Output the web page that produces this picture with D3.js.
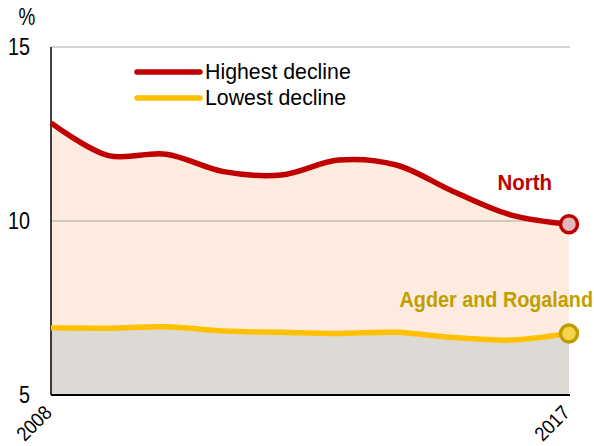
<!DOCTYPE html>
<html>
<head>
<meta charset="utf-8">
<script src="https://cdn.jsdelivr.net/npm/d3@7"></script>
<style>
  body { margin: 0; background: #fff; }
  svg { font-family: "Liberation Sans", Arial, sans-serif; }
</style>
</head>
<body>
<div id="chart"></div>
<script>
// Data
var years = [2008, 2009, 2010, 2011, 2012, 2013, 2014, 2015, 2016, 2017];
var highest = [12.82, 11.88, 11.92, 11.42, 11.32, 11.75, 11.61, 10.84, 10.17, 9.91];
var lowest = [6.93, 6.92, 6.96, 6.84, 6.80, 6.77, 6.80, 6.65, 6.58, 6.77];
var yTicks = [5, 10, 15];
var seriesNames = ["Highest decline", "Lowest decline"];
var endLabels = ["North", "Agder and Rogaland"];

//Width and height
var w = 594;
var h = 446;

var svg = d3.select("#chart")
    .append("svg")
    .attr("width", w)
    .attr("height", h);

var x = d3.scalePoint()
    .domain(years)
    .range([51, 569]);

var y = d3.scaleLinear()
    .domain([5, 15])
    .range([395, 47]);

var curve = d3.curveCatmullRom.alpha(0.5);

//Areas
var area = function (vals) {
    return d3.area()
        .x((d, i) => x(years[i]))
        .y0(y(5))
        .y1(d => y(d))
        .curve(curve)(vals);
};

svg.append("path")
    .attr("d", area(highest))
    .attr("fill", "#FCEBDE");

svg.append("path")
    .attr("d", area(lowest))
    .attr("fill", "#DDDAD5");

//Gridlines
svg.selectAll(".grid")
    .data(yTicks.filter(d => d > 5))
    .join("line")
    .attr("class", "grid")
    .attr("x1", x(2008))
    .attr("x2", x(2017) + 1)
    .attr("y1", d => y(d))
    .attr("y2", d => y(d))
    .attr("stroke", d => d === 15 ? "#C4C4C4" : "#CBBDB2")
    .attr("stroke-width", 1.5);

//Axes
svg.append("line")
    .attr("x1", x(2008)).attr("x2", x(2008))
    .attr("y1", y(15)).attr("y2", y(5))
    .attr("stroke", "#000").attr("stroke-width", 1.5);

svg.append("line")
    .attr("x1", x(2008)).attr("x2", x(2017) + 1)
    .attr("y1", y(5)).attr("y2", y(5))
    .attr("stroke", "#000").attr("stroke-width", 2);

//Y tick labels (slightly condensed like the original)
svg.selectAll(".ytick")
    .data(yTicks)
    .join("text")
    .attr("class", "ytick")
    .attr("text-anchor", "end")
    .attr("transform", d => `translate(30,${y(d) + 8}) scale(0.86,1)`)
    .style("font-size", "23px")
    .text(d => d);

svg.append("text")
    .attr("text-anchor", "middle")
    .attr("transform", "translate(27,25) scale(0.82,1)")
    .style("font-size", "23px")
    .text("%");

//X tick labels
svg.selectAll(".xtick")
    .data([years[0], years[years.length - 1]])
    .join("text")
    .attr("class", "xtick")
    .attr("text-anchor", "end")
    .attr("transform", d => `translate(${x(d) + 2},${y(5) + 19}) rotate(-45) scale(0.9,1)`)
    .style("font-size", "20px")
    .text(d => d);

//Lines
var line = d3.line()
    .x((d, i) => x(years[i]))
    .y(d => y(d))
    .curve(curve);

var colors = ["#C00000", "#FFC000"];

svg.selectAll(".series")
    .data([highest, lowest])
    .join("path")
    .attr("class", "series")
    .attr("d", d => line(d))
    .attr("fill", "none")
    .attr("stroke", (d, i) => colors[i])
    .attr("stroke-width", 5.5);

//End markers
var markerFill = ["#E2B8BC", "#F6D54C"];
var markerStroke = ["#C00000", "#BF9F00"];

svg.selectAll(".marker")
    .data([highest, lowest])
    .join("circle")
    .attr("class", "marker")
    .attr("cx", x(2017))
    .attr("cy", d => y(d[d.length - 1]))
    .attr("r", 8.5)
    .attr("fill", (d, i) => markerFill[i])
    .attr("stroke", (d, i) => markerStroke[i])
    .attr("stroke-width", 3.5);

//End labels
svg.append("text")
    .attr("text-anchor", "end")
    .attr("transform", "translate(552,190) scale(0.93,1)")
    .attr("fill", "#C00000")
    .style("font-size", "22px")
    .style("font-weight", "bold")
    .text(endLabels[0]);

svg.append("text")
    .attr("text-anchor", "end")
    .attr("transform", "translate(593,307) scale(0.9,1)")
    .attr("fill", "#BF9F00")
    .style("font-size", "22px")
    .style("font-weight", "bold")
    .text(endLabels[1]);

//Legend
var legend = svg.selectAll(".legend")
    .data(seriesNames)
    .join("g")
    .attr("class", "legend")
    .attr("transform", (d, i) => `translate(137, ${72 + i * 26})`);

legend.append("line")
    .attr("x1", 0).attr("x2", 63)
    .attr("y1", 0).attr("y2", 0)
    .attr("stroke", (d, i) => colors[i])
    .attr("stroke-width", 5.5)
    .attr("stroke-linecap", "round");

legend.append("text")
    .attr("transform", "translate(68,7) scale(0.97,1)")
    .style("font-size", "22px")
    .text(d => d);
</script>
</body>
</html>
